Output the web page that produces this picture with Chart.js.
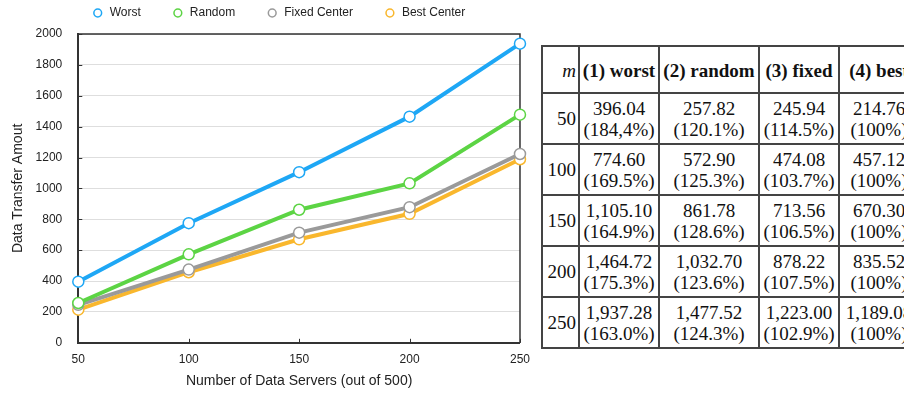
<!DOCTYPE html>
<html>
<head>
<meta charset="utf-8">
<title>Data Transfer Amount</title>
<script src="https://cdn.jsdelivr.net/npm/chart.js@4.4.1/dist/chart.umd.min.js"></script>
<style>
    html, body { margin: 0; padding: 0; background: #fff; width: 904px; height: 393px; overflow: hidden; }
    #chartBox { position: absolute; left: 0; top: 0; width: 540px; height: 393px; }
    #tbl {
        position: absolute; left: 541px; top: 45px;
        width: 377px; table-layout: fixed; border-collapse: collapse;
        font-family: "Liberation Serif", "Times New Roman", serif;
        font-size: 19px; line-height: 21px; color: #111;
    }
    #tbl th, #tbl td { border: 2px solid #444; padding: 0; text-align: center; white-space: nowrap; }
    #tbl th { height: 43px; padding-top: 2px; }
    #tbl td { height: 49px; }
    #tbl .m { text-align: right; padding-right: 2px; }
    #tbl th.m { font-weight: normal; font-style: italic; }
</style>
</head>
<body>
<div id="chartBox"><canvas id="myChart"></canvas></div>
<table id="tbl">
    <colgroup><col style="width:37px"><col style="width:80px"><col style="width:100px"><col style="width:80px"><col style="width:80px"></colgroup>
    <thead><tr id="headRow"></tr></thead>
    <tbody id="tblBody"></tbody>
</table>
<script>
// Chart data
const servers = ['50', '100', '150', '200', '250'];
const worstAmount = [396.04, 774.60, 1105.10, 1464.72, 1937.28];
const randomAmount = [257.82, 572.90, 861.78, 1032.70, 1477.52];
const fixedAmount = [245.94, 474.08, 713.56, 878.22, 1223.00];
const bestAmount = [214.76, 457.12, 670.30, 835.52, 1189.08];

// Table extras (percent of best, as printed)
const worstPct = ['184,4', '169.5', '164.9', '175.3', '163.0'];
const randomPct = ['120.1', '125.3', '128.6', '123.6', '124.3'];
const fixedPct = ['114.5', '103.7', '106.5', '107.5', '102.9'];
const bestPct = ['100', '100', '100', '100', '100'];
const tableHeaders = ['(1) worst', '(2) random', '(3) fixed', '(4) best'];

const seriesNames = ['Worst', 'Random', 'Fixed Center', 'Best Center'];
const seriesColors = ['#1ea7f5', '#5cd444', '#9a9a9a', '#f9b72d'];

// Build the table
function buildTable() {
    const head = document.getElementById('headRow');
    head.innerHTML = '<th class="m">m</th>' + tableHeaders.map(h => `<th>${h}</th>`).join('');

    const cols = [[worstAmount, worstPct], [randomAmount, randomPct], [fixedAmount, fixedPct], [bestAmount, bestPct]];
    const fmt = v => v.toLocaleString('en-US', { minimumFractionDigits: 2, maximumFractionDigits: 2 });
    const body = document.getElementById('tblBody');
    body.innerHTML = servers.map((m, i) => {
        const cells = cols.map(([vals, pcts]) => `<td>${fmt(vals[i])}<br>(${pcts[i]}%)</td>`).join('');
        return `<tr><td class="m">${m}</td>${cells}</tr>`;
    }).join('');
}

// Frame on top/right plus short inner tick marks
const frameBox = {
    id: 'frameBox',
    beforeDatasetsDraw(chart) {
        const { ctx, chartArea: a, scales } = chart;
        ctx.save();
        ctx.strokeStyle = '#333';
        ctx.lineWidth = 1.5;
        ctx.beginPath();
        ctx.moveTo(a.left, a.top);
        ctx.lineTo(a.right, a.top);
        ctx.lineTo(a.right, a.bottom);
        ctx.stroke();
        ctx.lineWidth = 1;
        ctx.beginPath();
        scales.y.ticks.forEach(t => {
            const y = Math.round(scales.y.getPixelForValue(t.value)) + 0.5;
            ctx.moveTo(a.left, y);
            ctx.lineTo(a.left + 4, y);
        });
        scales.x.ticks.forEach((t, i) => {
            const x = Math.round(scales.x.getPixelForTick(i)) + 0.5;
            ctx.moveTo(x, a.bottom);
            ctx.lineTo(x, a.bottom - 4);
        });
        ctx.stroke();
        ctx.restore();
    }
};

function drawChart() {
    Chart.defaults.font.family = '"Liberation Sans", Arial, Helvetica, sans-serif';
    Chart.defaults.color = '#222';

    const amounts = [worstAmount, randomAmount, fixedAmount, bestAmount];
    const ctx = document.getElementById('myChart').getContext('2d');

    new Chart(ctx, {
        type: 'line',
        data: {
            labels: servers,
            datasets: seriesNames.map((name, i) => ({
                label: name,
                data: amounts[i],
                borderColor: seriesColors[i],
                borderWidth: 4,
                tension: 0,
                pointRadius: 5.5,
                pointBorderWidth: 1.5,
                pointBackgroundColor: '#fff',
                pointBorderColor: seriesColors[i],
                clip: false
            }))
        },
        plugins: [frameBox],
        options: {
            responsive: true,
            maintainAspectRatio: false,
            animation: false,
            layout: { padding: { left: 35, right: 18, top: -24, bottom: 0 } },
            scales: {
                x: {
                    grid: { display: true, drawOnChartArea: false, drawTicks: false },
                    border: { color: '#333', width: 2 },
                    ticks: { padding: 10, font: { size: 12 } },
                    title: {
                        display: true,
                        text: 'Number of Data Servers (out of 500)',
                        font: { size: 14 },
                        padding: { top: -4, bottom: 3 }
                    }
                },
                y: {
                    min: 0,
                    max: 2000,
                    ticks: { stepSize: 200, padding: 16, font: { size: 12 }, callback: v => String(v) },
                    grid: { color: '#dedede', drawTicks: false },
                    border: { color: '#333', width: 2 },
                    title: {
                        display: true,
                        text: 'Data Transfer Amout',
                        font: { size: 14 },
                        padding: { top: -25.4, bottom: -6.8 }
                    }
                }
            },
            plugins: {
                legend: {
                    position: 'top',
                    labels: {
                        usePointStyle: true,
                        pointStyle: 'circle',
                        boxWidth: 12,
                        boxHeight: 5.5,
                        padding: 31,
                        font: { size: 12 }
                    }
                },
                // empty spacer between legend and plot
                title: {
                    display: true,
                    text: '',
                    weight: 500,
                    padding: 0,
                    font: { size: 5, lineHeight: 1 }
                },
                tooltip: { enabled: false }
            }
        }
    });
}

buildTable();
drawChart();
</script>
</body>
</html>
